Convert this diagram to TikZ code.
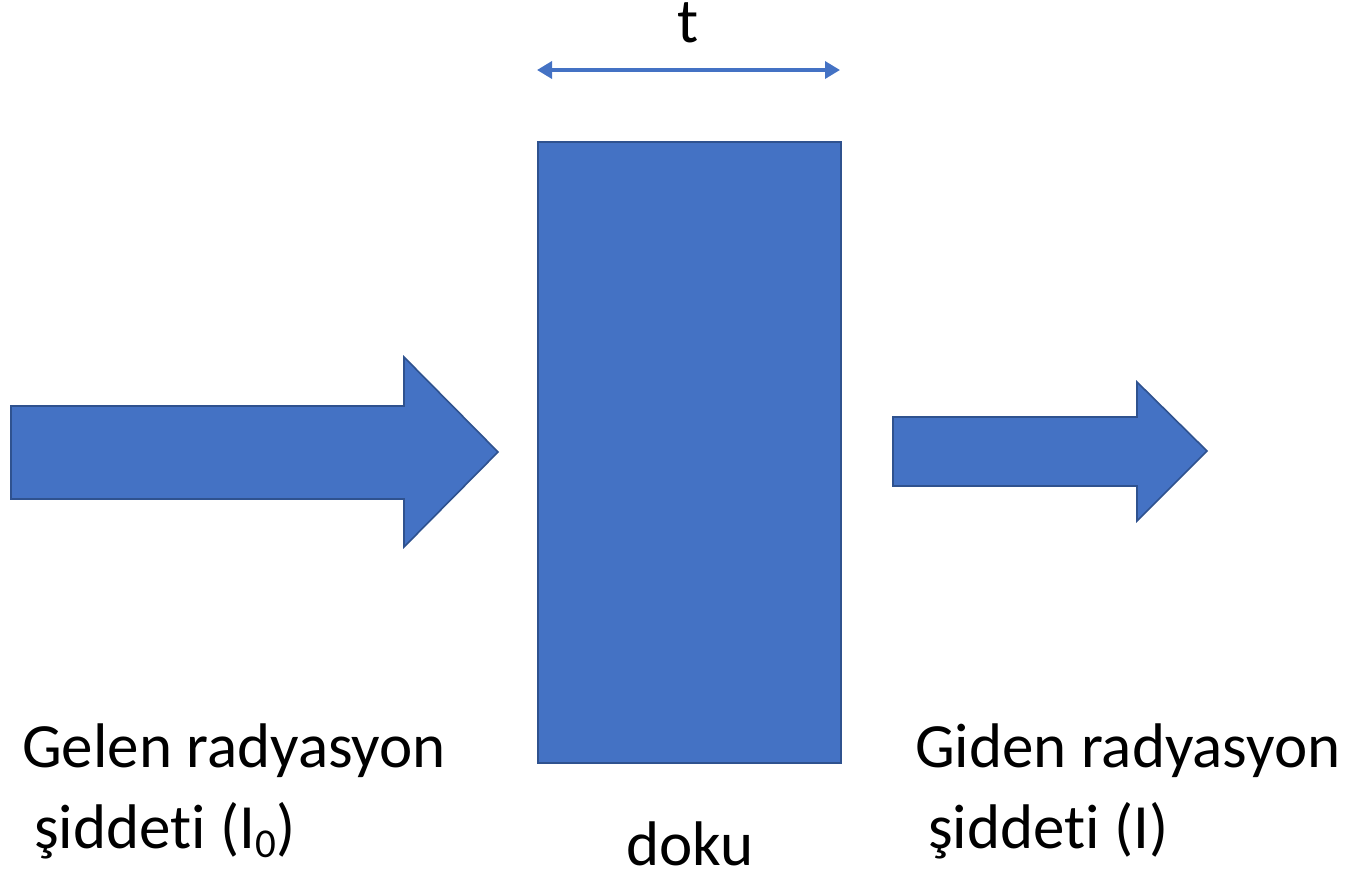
\documentclass[tikz,border=0pt]{standalone}
\usepackage{fontspec}
\setmainfont[Ligatures=NoCommon]{Carlito}
\usetikzlibrary{arrows.meta}
\definecolor{blockfill}{HTML}{4472C4}
\definecolor{blockedge}{HTML}{2F528F}
\begin{document}
\begin{tikzpicture}[x=1pt,y=-1pt,
  block/.style={fill=blockfill,draw=blockedge,line width=1.6pt},
  label/.style={inner sep=0pt,font=\fontsize{63}{81}\selectfont,align=left}]
\useasboundingbox (0,0) rectangle (1352,876);
% tissue slab
\node[block,minimum width=303pt,minimum height=621pt,inner sep=0pt,anchor=north west] (tissue) at (537,141) {};
% thickness marker
\coordinate (tl) at (537,70);
\coordinate (tr) at (840,70);
\draw[blockfill,line width=3.5pt,{Triangle[length=15pt,width=17pt]}-{Triangle[length=15pt,width=17pt]}] (tl) -- (tr);
\node[label,anchor=base] (tlabel) at (688,42) {t};
% incoming beam
\draw[block,line join=miter] (11,406) -- (404,406) -- (404,357) -- (498,452) -- (404,547) -- (404,499) -- (11,499) -- cycle;
% outgoing beam
\draw[block,line join=miter] (893,417) -- (1137,417) -- (1137,382) -- (1207,451) -- (1137,521) -- (1137,486) -- (893,486) -- cycle;
% labels (anchored at the baseline of their last line)
\node[label,anchor=base west] (inlabel) at (22,848) {Gelen radyasyon\\\hspace{12pt}şiddeti (I\raisebox{-9pt}{\fontsize{41}{41}\selectfont 0})};
\node[label,anchor=base west] (outlabel) at (915,848) {Giden radyasyon\\\hspace{13pt}şiddeti (I)};
\node[label,anchor=base] (doku) at (690,865) {doku};
\end{tikzpicture}
\end{document}
